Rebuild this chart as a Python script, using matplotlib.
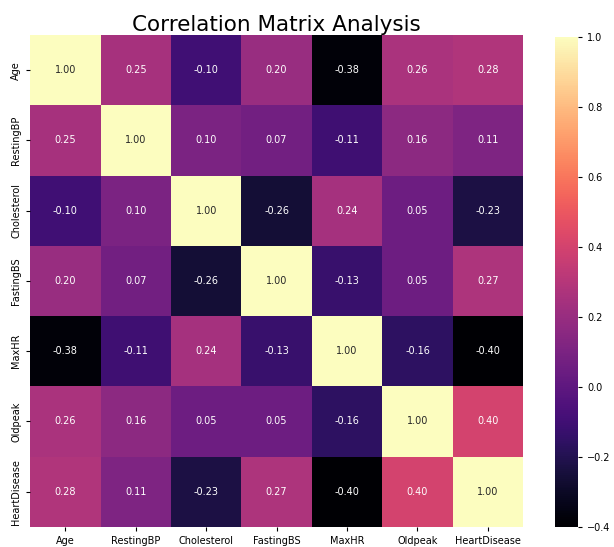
import numpy as np
import pandas as pd
import seaborn as sns
import matplotlib.pyplot as plt

features = ["Age", "RestingBP", "Cholesterol", "FastingBS", "MaxHR", "Oldpeak", "HeartDisease"]

# symmetric correlation values, one row per feature
age = [1.00, 0.25, -0.10, 0.20, -0.38, 0.26, 0.28]
resting_bp = [0.25, 1.00, 0.10, 0.07, -0.11, 0.16, 0.11]
cholesterol = [-0.10, 0.10, 1.00, -0.26, 0.24, 0.05, -0.23]
fasting_bs = [0.20, 0.07, -0.26, 1.00, -0.13, 0.05, 0.27]
max_hr = [-0.38, -0.11, 0.24, -0.13, 1.00, -0.16, -0.40]
oldpeak = [0.26, 0.16, 0.05, 0.05, -0.16, 1.00, 0.40]
heart_disease = [0.28, 0.11, -0.23, 0.27, -0.40, 0.40, 1.00]

corr = pd.DataFrame([age, resting_bp, cholesterol, fasting_bs, max_hr, oldpeak, heart_disease],
                    index=features, columns=features)

fig = plt.figure(figsize=(6.14, 5.47), dpi=100)
ax = fig.add_axes([0.049, 0.037, 0.803, 0.899])
cax = fig.add_axes([0.904, 0.037, 0.038, 0.896])

sns.heatmap(corr, annot=True, fmt=".2f", cmap="magma", ax=ax, cbar_ax=cax,
            annot_kws={"size": 7}, vmin=-0.40, vmax=1.0)
ax.set_title("Correlation Matrix Analysis", fontsize=15.5, pad=3)
ax.tick_params(labelsize=7, length=3)
plt.setp(ax.get_xticklabels(), rotation=0)
plt.setp(ax.get_yticklabels(), rotation=90, va="center")
cax.tick_params(labelsize=7, length=3)
cax.set_yticks([-0.4, -0.2, 0.0, 0.2, 0.4, 0.6, 0.8, 1.0])

fig.savefig("out.png", dpi=100)
